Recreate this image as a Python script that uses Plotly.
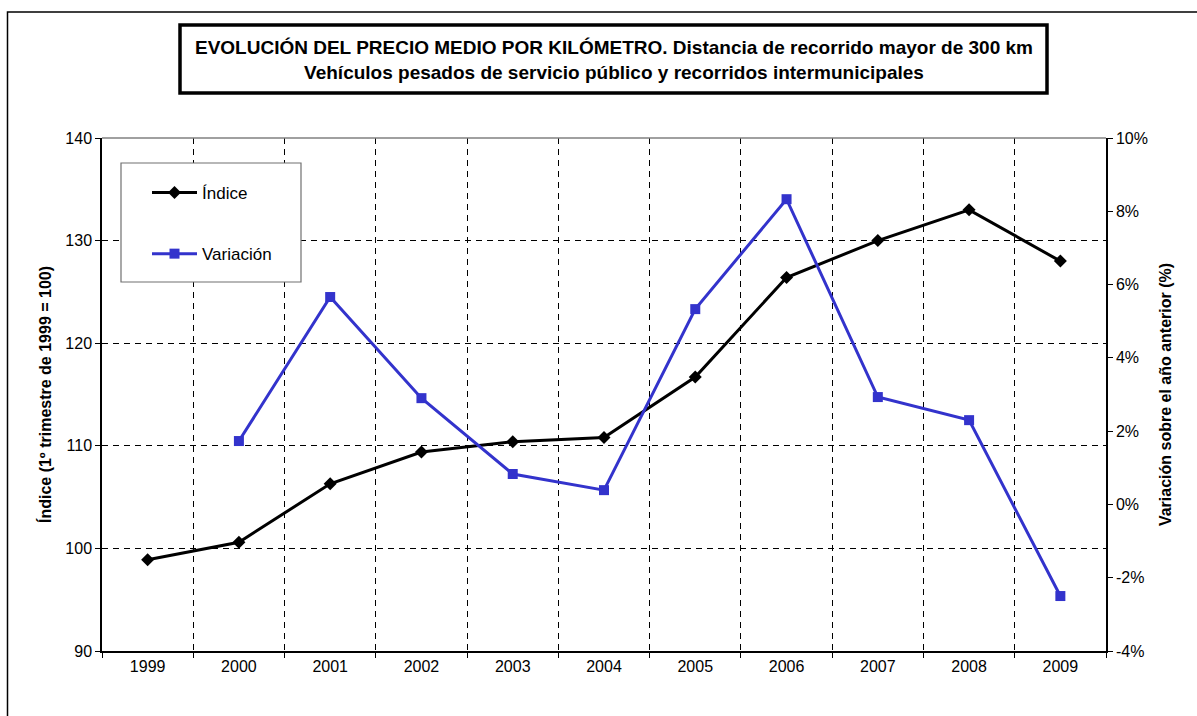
import plotly.graph_objects as go

years = ["1999", "2000", "2001", "2002", "2003", "2004", "2005", "2006", "2007", "2008", "2009"]
indice = [98.9, 100.6, 106.3, 109.4, 110.4, 110.8, 116.7, 126.4, 130.0, 133.0, 128.0]
var_years = ["2000", "2001", "2002", "2003", "2004", "2005", "2006", "2007", "2008", "2009"]
variacion = [1.73, 5.66, 2.90, 0.83, 0.39, 5.33, 8.33, 2.93, 2.30, -2.50]
pct_ticks = [-4, -2, 0, 2, 4, 6, 8, 10]
pct_labels = ["-4%", "-2%", "0%", "2%", "4%", "6%", "8%", "10%"]

xpos = {y: i for i, y in enumerate(years)}

W, H = 1197, 716
L, R, T, B = 102, 1106, 138, 651

def px(x):
    return (x - L) / (R - L)

def py(y):
    return (B - y) / (B - T)

fig = go.Figure()
fig.add_trace(go.Scatter(
    x=[xpos[y] for y in years], y=indice, name="Índice", legendgroup="a",
    mode="lines+markers", line=dict(color="black", width=3),
    marker=dict(symbol="diamond", size=10, color="black"), yaxis="y"))
fig.add_trace(go.Scatter(
    x=[xpos[y] for y in var_years], y=variacion, name="Variación", legendgroup="b",
    mode="lines+markers", line=dict(color="#3333CC", width=3),
    marker=dict(symbol="square", size=10, color="#3333CC"), yaxis="y2"))

font = "Liberation Sans, Arial, sans-serif"
bounds = [i - 0.5 for i in range(len(years) + 1)]

fig.update_layout(
    width=W, height=H,
    margin=dict(l=L, r=W - R, t=T, b=H - B),
    paper_bgcolor="white", plot_bgcolor="white",
    font=dict(family=font, size=16, color="black"),
    xaxis=dict(
        range=[-0.5, len(years) - 0.5],
        tickvals=list(range(len(years))), ticktext=years,
        ticks="", showgrid=False, zeroline=False,
        showline=True, linecolor="black", linewidth=1.5,
        tickfont=dict(size=16),
        minor=dict(tickvals=bounds, ticks="outside", ticklen=5, tickcolor="black",
                   showgrid=True, gridcolor="black", griddash="6px,5px", gridwidth=1),
    ),
    yaxis=dict(
        range=[90, 140], dtick=10, ticks="outside", ticklen=5, tickcolor="black",
        showline=True, linecolor="black", linewidth=1.5,
        showgrid=True, gridcolor="black", griddash="6px,5px", gridwidth=1,
        zeroline=False, tickfont=dict(size=16),
        title=dict(text="<b>Índice (1º trimestre de 1999 = 100)</b>", font=dict(size=16), standoff=10),
    ),
    yaxis2=dict(
        range=[-4, 10], tickvals=pct_ticks, ticktext=pct_labels, overlaying="y", side="right",
        ticks="outside", ticklen=5, tickcolor="black",
        showline=True, linecolor="black", linewidth=1.5,
        showgrid=False, zeroline=False, tickfont=dict(size=16),
        title=dict(text="<b>Variación sobre el año anterior (%)</b>", font=dict(size=16), standoff=13),
    ),
    legend=dict(
        x=px(147), y=py(175), xanchor="left", yanchor="top",
        bgcolor="rgba(0,0,0,0)", borderwidth=0,
        font=dict(size=17), tracegroupgap=36, itemwidth=45,
    ),
    showlegend=True,
)

shapes = [
    # outer frame
    dict(type="rect", xref="paper", yref="paper",
         x0=px(7.5), x1=px(1210), y0=py(730), y1=py(12),
         line=dict(color="black", width=1.5), layer="below"),
    # plot area top border
    dict(type="line", xref="paper", yref="paper", x0=0, x1=1, y0=1, y1=1,
         line=dict(color="#808080", width=1.5)),
    # legend box
    dict(type="rect", xref="paper", yref="paper",
         x0=px(121), x1=px(301), y0=py(282), y1=py(163),
         line=dict(color="#707070", width=1.2), fillcolor="white", layer="above"),
    # title box
    dict(type="rect", xref="paper", yref="paper",
         x0=px(180), x1=px(1047), y0=py(93), y1=py(25),
         line=dict(color="black", width=3.5), fillcolor="white"),
]
fig.update_layout(shapes=shapes)

fig.add_annotation(
    xref="paper", yref="paper", x=px(613.5), y=py(59.5), xanchor="center", yanchor="middle",
    text="<b>EVOLUCIÓN DEL PRECIO MEDIO POR KILÓMETRO. Distancia de recorrido mayor de 300 km</b><br>"
         "<b>Vehículos pesados de servicio público y recorridos intermunicipales</b>",
    showarrow=False, font=dict(size=19, family=font), align="center")

fig.write_html("out.html", config={"displayModeBar": False},
               post_script="document.body.style.margin='0';document.body.style.overflow='hidden';")
